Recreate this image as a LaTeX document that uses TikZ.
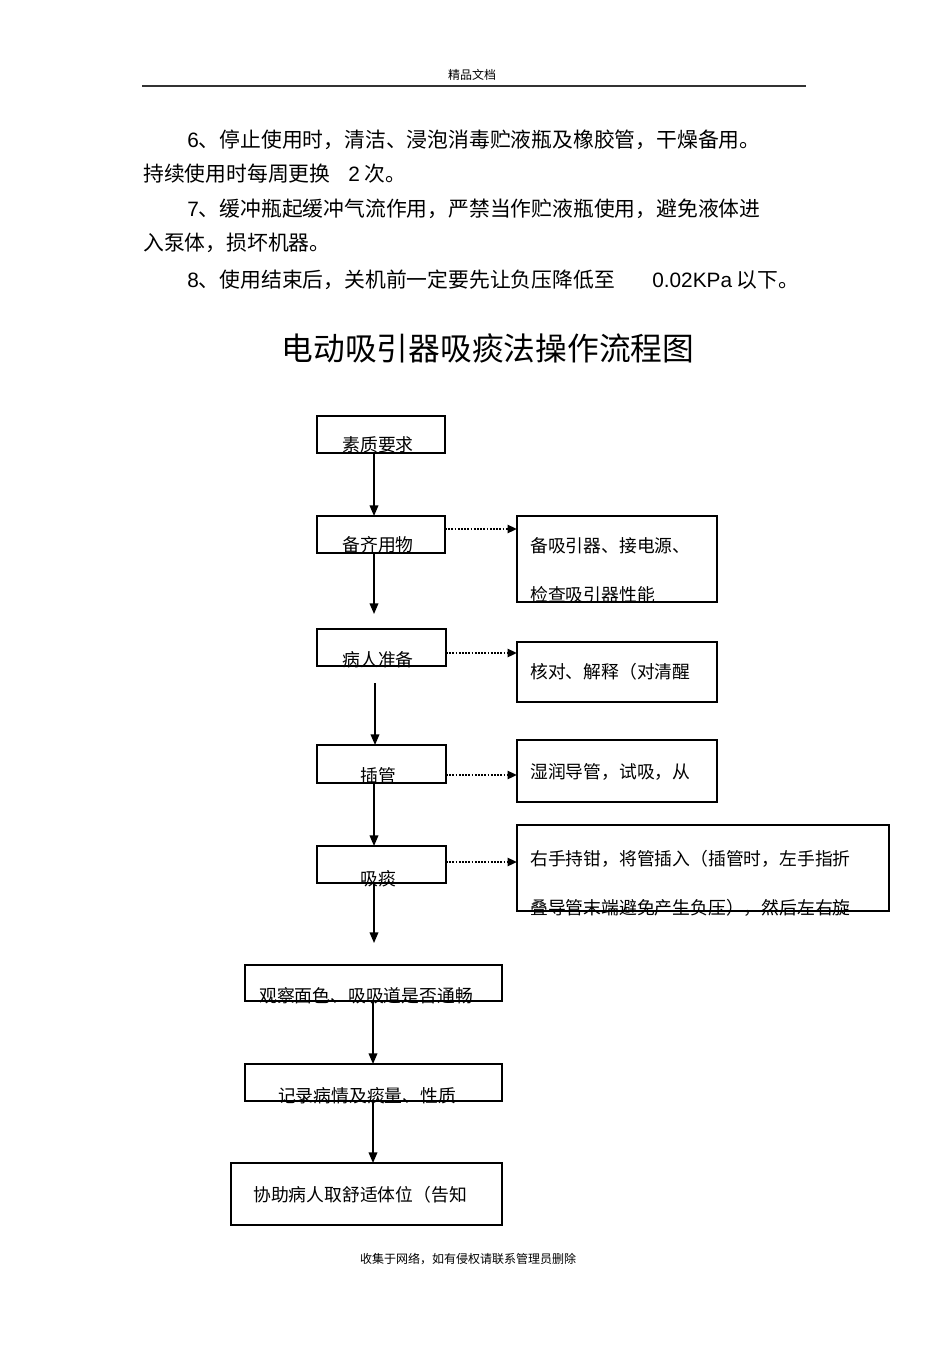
\documentclass[tikz,border=0pt]{standalone}
\usepackage{fontspec}
\setmainfont{Noto Sans CJK SC}
\newfontfamily\latf{Liberation Sans}
\usetikzlibrary{arrows.meta}
\tikzset{
  box/.style={draw, line width=1pt, inner sep=0pt, outer sep=0pt},
  lbl/.style={inner sep=0pt, font=\fontsize{13.35}{15}\selectfont},
  body/.style={inner sep=0pt, anchor=west, font=\fontsize{15.6}{18}\selectfont},
  small/.style={inner sep=0pt, font=\fontsize{9}{11}\selectfont},
  arr/.style={line width=1.1pt, -{Triangle[length=8pt,width=6.5pt]}},
  dotarr/.style={line width=1.6pt, dash pattern=on 1.3pt off 1.1pt, -{Triangle[length=7pt,width=6pt]}}
}
\newcommand\mkbox[5]{\node[box, minimum width={(#4-#2)*0.75pt}, minimum height={(#5-#3)*0.75pt}] (#1) at ({(#2+#4)/2},{(#3+#5)/2}) {};}
\begin{document}
\begin{tikzpicture}[x=0.75pt,y=-0.75pt]
\fill[white] (0,0) rectangle (950,1345);
\useasboundingbox (0,0) rectangle (950,1345);
% header and footer
\node[small] (hdr) at (472,75) {精品文档};
\coordinate (r1) at (142,86);
\coordinate (r2) at (806,86);
\draw[line width=0.9pt, black!80] (r1) -- (r2);
\node[small] (ftr) at (468,1259) {收集于网络，如有侵权请联系管理员删除};
% body text
\node[body] (t1) at (187,140) {{\latf 6}、停止使用时，清洁、浸泡消毒贮液瓶及橡胶管，干燥备用。};
\node[body] (t2a) at (143,174) {持续使用时每周更换};
\node[body] (t2b) at (348,174) {{\latf 2} 次。};
\node[body] (t3) at (187,209) {{\latf 7}、缓冲瓶起缓冲气流作用，严禁当作贮液瓶使用，避免液体进};
\node[body] (t4) at (143,243) {入泵体，损坏机器。};
\node[body] (t5a) at (187,280) {{\latf 8}、使用结束后，关机前一定要先让负压降低至};
\node[body] (t5b) at (652,280) {{\latf 0.02KPa} 以下。};
% title
\node[inner sep=0pt, font=\fontsize{23.8}{28}\selectfont] (title) at (488,348) {电动吸引器吸痰法操作流程图};
% boxes
\mkbox{b1}{317}{416}{445}{453}
\mkbox{b2}{317}{516}{445}{553}
\mkbox{s2}{517}{516}{717}{602}
\mkbox{b3}{317}{629}{446}{666}
\mkbox{s3}{517}{642}{717}{702}
\mkbox{b4}{317}{745}{446}{783}
\mkbox{s4}{517}{740}{717}{802}
\mkbox{b5}{317}{846}{446}{883}
\mkbox{s5}{517}{825}{889}{911}
\mkbox{b6}{245}{965}{502}{1001}
\mkbox{b7}{245}{1064}{502}{1101}
\mkbox{b8}{231}{1163}{502}{1225}
% labels
\node[lbl] (l1) at (378,445) {素质要求};
\node[lbl] (l2) at (378,545) {备齐用物};
\node[lbl, anchor=west] (l2a) at (530,546) {备吸引器、接电源、};
\node[lbl, anchor=west] (l2b) at (530,595) {检查吸引器性能};
\node[lbl] (l3) at (378,660) {病人准备};
\node[lbl, anchor=west] (l3a) at (530,672) {核对、解释（对清醒};
\node[lbl] (l4) at (378,776) {插管};
\node[lbl, anchor=west] (l4a) at (530,772) {湿润导管，试吸，从};
\node[lbl] (l5) at (378,879) {吸痰};
\node[lbl, anchor=west] (l5a) at (530,859) {右手持钳，将管插入（插管时，左手指折};
\node[lbl, anchor=west] (l5b) at (530,908) {叠导管末端避免产生负压），然后左右旋};
\node[lbl] (l6) at (366,996) {观察面色、吸吸道是否通畅};
\node[lbl] (l7) at (367,1096) {记录病情及痰量、性质};
\node[lbl, anchor=west] (l8) at (253,1195) {协助病人取舒适体位（告知};
% connectors
\coordinate (xa) at (374,0);
\coordinate (xb) at (375,0);
\coordinate (xc) at (373,0);
\coordinate (e2) at (374,614);
\coordinate (s3top) at (375,683);
\coordinate (e5) at (374,943);
\draw[arr] (b1.south -| xa) -- (b2.north -| xa);
\draw[arr] (b2.south -| xa) -- (e2);
\draw[arr] (s3top) -- (b4.north -| xb);
\draw[arr] (b4.south -| xa) -- (b5.north -| xa);
\draw[arr] (b5.south -| xa) -- (e5);
\draw[arr] (b6.south -| xc) -- (b7.north -| xc);
\draw[arr] (b7.south -| xc) -- (b8.north -| xc);
\coordinate (d2) at (0,529);
\coordinate (d3) at (0,653);
\coordinate (d4) at (0,775);
\coordinate (d5) at (0,862);
\draw[dotarr] (b2.east |- d2) -- (s2.west |- d2);
\draw[dotarr] (b3.east |- d3) -- (s3.west |- d3);
\draw[dotarr] (b4.east |- d4) -- (s4.west |- d4);
\draw[dotarr] (b5.east |- d5) -- (s5.west |- d5);
\end{tikzpicture}
\end{document}
